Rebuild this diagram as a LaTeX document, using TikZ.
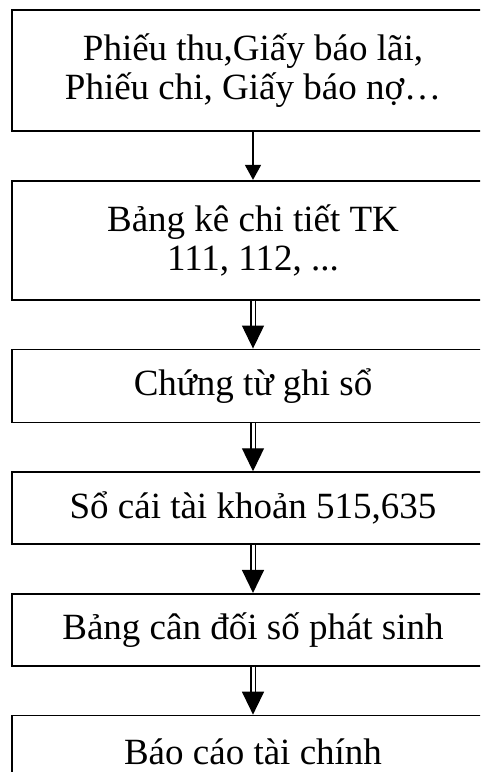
\documentclass[tikz,border=0pt]{standalone}
\usepackage{fontspec}
\setmainfont{Liberation Serif}
\usepackage{tikz}
\usetikzlibrary{positioning, arrows.meta}
\tikzset{
    base/.style={
        font=\fontsize{37}{39}\selectfont,
        align=center
    },
    stage/.style={
        base,
        rectangle,
        draw=black,
        line width=1.7pt,
        fill=white,
        minimum width=482pt,
        inner sep=2pt
    },
    flow/.style={
        -{Triangle[width=16pt,length=15pt]},
        line width=1.6pt,
        black
    },
    dflow/.style={
        -{Triangle[width=22pt,length=23pt]},
        double=white,
        double distance=3pt,
        line width=1.3pt,
        black
    }
}

\begin{document}
\begin{tikzpicture}[node distance=48pt]
  \clip (0,0) rectangle (480pt,-772pt);
  \fill[white] (0,0) rectangle (480pt,-772pt);

  % Boxes
  \node[stage, minimum height=121pt] (chungtu) at (253pt,-70.5pt) {Phiếu thu,Giấy báo lãi,\\Phiếu chi, Giấy báo nợ…};
  \node[stage, minimum height=119pt, below=of chungtu] (bangke) {Bảng kê chi tiết TK\\111, 112, ...};
  \node[stage, minimum height=73pt, below=of bangke] (ctgs) {Chứng từ ghi sổ};
  \node[stage, minimum height=72pt, below=of ctgs] (socai) {Sổ cái tài khoản 515,635};
  \node[stage, minimum height=72pt, below=of socai] (cdps) {Bảng cân đối số phát sinh};
  \node[stage, minimum height=72pt, below=of cdps] (bctc) {Báo cáo tài chính};

  % Connections
  \draw[flow] (chungtu) -- (bangke);
  \draw[dflow] (bangke) -- (ctgs);
  \draw[dflow] (ctgs) -- (socai);
  \draw[dflow] (socai) -- (cdps);
  \draw[dflow] (cdps) -- (bctc);
\end{tikzpicture}
\end{document}
